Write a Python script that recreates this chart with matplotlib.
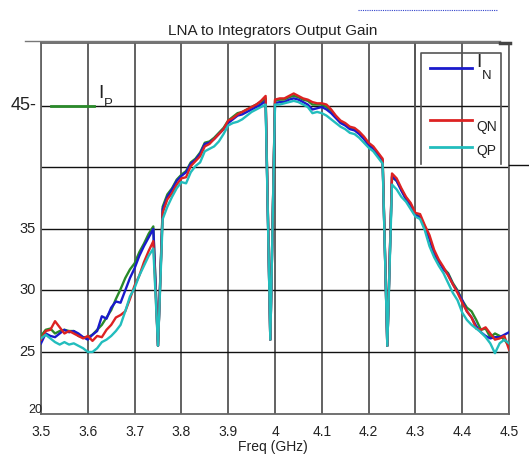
import numpy as np
import matplotlib
matplotlib.use("Agg")
import matplotlib.pyplot as plt
from matplotlib.lines import Line2D

plt.rcParams['font.family'] = ['Liberation Sans', 'DejaVu Sans']

freq = np.round(np.linspace(3.5, 4.5, 101), 2)

ip = [26.3, 26.8, 26.9, 26.5, 26.7, 26.8, 26.7, 26.7, 26.3, 26.2,
      26.2, 26.4, 26.8, 27.2, 27.8, 28.4, 29.3, 30.1, 31.0, 31.7,
      32.2, 33.1, 33.8, 34.6, 35.2, 25.5, 36.8, 37.8, 38.3, 39.0,
      39.4, 39.7, 40.4, 40.7, 41.2, 42.0, 42.1, 42.4, 42.8, 43.2,
      43.8, 44.1, 44.4, 44.5, 44.7, 44.9, 45.1, 45.3, 45.6, 26.0,
      45.4, 45.5, 45.5, 45.7, 45.8, 45.7, 45.5, 45.4, 45.1, 45.1,
      45.1, 44.9, 44.6, 44.1, 43.7, 43.5, 43.2, 43.1, 42.8, 42.4,
      41.9, 41.6, 41.1, 40.6, 25.5, 39.2, 38.9, 38.2, 37.5, 37.0,
      36.2, 36.0, 35.2, 34.3, 33.0, 32.3, 31.8, 31.4, 30.6, 30.0,
      29.2, 28.6, 28.3, 27.6, 26.8, 26.9, 26.2, 26.5, 26.3, 26.0,
      25.5]

i_n = [25.7, 26.5, 26.3, 26.2, 26.5, 26.8, 26.6, 26.7, 26.5, 26.2,
       26.0, 26.4, 26.7, 27.9, 27.7, 28.6, 29.1, 29.0, 30.0, 31.0,
       31.8, 32.8, 33.6, 34.3, 35.0, 25.5, 36.6, 37.6, 38.2, 38.9,
       39.3, 39.6, 40.3, 40.6, 41.1, 41.9, 42.0, 42.3, 42.7, 43.1,
       43.6, 43.9, 44.2, 44.3, 44.5, 44.7, 44.9, 45.1, 45.4, 26.0,
       45.2, 45.3, 45.3, 45.5, 45.6, 45.5, 45.3, 45.1, 44.7, 44.8,
       44.9, 44.7, 44.4, 44.0, 43.6, 43.4, 43.1, 43.0, 42.7, 42.3,
       41.8, 41.5, 41.0, 40.5, 25.5, 39.3, 38.9, 38.1, 37.4, 36.9,
       36.1, 35.9, 35.1, 34.2, 33.0, 32.4, 31.7, 31.3, 30.5, 29.9,
       29.2, 28.3, 27.8, 27.1, 26.6, 26.3, 26.1, 26.2, 26.2, 26.4,
       26.6]

qn = [26.0, 26.7, 26.8, 27.5, 27.0, 26.5, 26.7, 26.5, 26.3, 26.1,
      26.3, 25.9, 26.3, 26.2, 26.8, 27.2, 27.8, 28.0, 28.3, 29.3,
      30.4, 31.2, 32.3, 33.2, 34.0, 25.5, 36.3, 37.4, 37.9, 38.6,
      39.1, 39.2, 40.1, 40.5, 40.9, 41.7, 41.9, 42.3, 42.7, 43.1,
      43.8, 44.0, 44.3, 44.5, 44.7, 44.9, 45.1, 45.4, 45.8, 26.0,
      45.5, 45.6, 45.6, 45.8, 46.0, 45.8, 45.6, 45.5, 45.3, 45.2,
      45.2, 45.1, 44.7, 44.2, 43.8, 43.6, 43.3, 43.2, 42.9, 42.5,
      42.0, 41.7, 41.2, 40.7, 25.5, 39.5, 39.1, 38.3, 37.6, 37.1,
      36.3, 36.2, 35.3, 34.5, 33.3, 32.5, 31.9, 31.2, 30.5, 29.8,
      29.0, 28.3, 27.8, 26.9, 26.8, 27.0, 26.5, 26.0, 26.1, 26.3,
      25.2]

qp = [26.1, 26.4, 26.1, 25.8, 25.6, 25.8, 25.6, 25.7, 25.5, 25.3,
      25.0, 25.0, 25.3, 25.8, 26.0, 26.3, 26.7, 27.2, 28.3, 29.5,
      30.2, 31.2, 32.0, 32.8, 33.4, 25.5, 35.8, 36.8, 37.6, 38.3,
      38.8, 38.7, 39.6, 40.1, 40.4, 41.3, 41.5, 41.7, 42.1, 42.7,
      43.4, 43.6, 43.7, 43.9, 44.2, 44.5, 44.7, 44.9, 45.1, 26.0,
      45.1, 45.1, 45.2, 45.3, 45.4, 45.3, 45.1, 44.9, 44.4, 44.5,
      44.4, 44.2, 43.9, 43.6, 43.3, 43.1, 42.8, 42.7, 42.4, 42.0,
      41.6, 41.3, 40.8, 40.3, 25.5, 38.6, 38.2, 37.6, 37.2, 36.6,
      36.0, 35.8, 34.9, 33.6, 32.7, 32.0, 31.4, 30.6, 29.8, 29.2,
      28.2, 27.6, 27.2, 26.9, 26.6, 26.2, 25.7, 24.9, 25.7, 26.0,
      25.7]

x_ticks = [3.5, 3.6, 3.7, 3.8, 3.9, 4.0, 4.1, 4.2, 4.3, 4.4, 4.5]
x_ticklabels = ['3.5', '3.6', '3.7', '3.8', '3.9', '4', '4.1', '4.2', '4.3', '4.4', '4.5']
y_ticks = [20, 25, 30, 35, 45]
y_ticklabels = ['20', '25', '30', '35', '45']
title = 'LNA to Integrators Output Gain'
xlabel = 'Freq (GHz)'

W, H = 529, 458
fig = plt.figure(figsize=(W / 100, H / 100), dpi=100)
ax = fig.add_axes([41 / W, 1 - 413.5 / H, (509 - 41) / W, (413.5 - 43) / H])


def fx(px):
    return px / W


def fy(py):
    return 1 - py / H


# grid
for xv in x_ticks:
    ax.axvline(xv, color='#555555', lw=1.3, zorder=1)
for yv in [25, 30, 35, 40, 45]:
    ax.axhline(yv, color='#111111', lw=1.0, zorder=1)

ax.plot(freq, ip, color='#2a8a2a', lw=1.7, zorder=3)
ax.plot(freq, i_n, color='#1a1acc', lw=1.7, zorder=3)
ax.plot(freq, qn, color='#dd2222', lw=1.7, zorder=3)
ax.plot(freq, qp, color='#22bdbd', lw=1.7, zorder=4)

ax.set_xlim(3.5, 4.5)
ax.set_ylim(20, 50.1)
ax.set_xticks(x_ticks)
ax.set_xticklabels(x_ticklabels, fontsize=10, color='#222222')
ax.set_yticks([])
ax.tick_params(axis='x', length=0, pad=8)
for s in ax.spines.values():
    s.set_color('#666666')
    s.set_linewidth(1.3)

# y tick labels (irregular sizes as in reference)
for yv, lab in zip(y_ticks, y_ticklabels):
    if lab == '45':
        ax.text(-0.01, yv, lab + '-', transform=ax.get_yaxis_transform(), ha='right',
                va='center', fontsize=13, color='#222222')
    elif lab == '20':
        ax.text(-0.012, yv + 0.3, lab, transform=ax.get_yaxis_transform(), ha='center',
                va='center', fontsize=9, color='#222222')
    else:
        ax.text(-0.012, yv, lab, transform=ax.get_yaxis_transform(), ha='right',
                va='center', fontsize=10.5, color='#222222')

fig.text(fx(273), fy(31), title, ha='center', va='center', fontsize=11, color='#222222')
fig.text(fx(273), fy(447), xlabel, ha='center', va='center', fontsize=10, color='#222222')

# extended horizontal line at 40 to the right edge
fig.add_artist(Line2D([fx(509), fx(529)], [fy(165), fy(165)], color='#111111', lw=1.0))
# top double frame
fig.add_artist(Line2D([fx(25), fx(500)], [fy(41), fy(41)], color='#777777', lw=1.0))
fig.add_artist(Line2D([fx(500), fx(510)], [fy(43), fy(43)], color='#444444', lw=2.5))
# dotted artifact at top right
fig.add_artist(Line2D([fx(358), fx(498)], [fy(10), fy(10)], color='#3344cc', lw=0.8, ls=(0, (1, 1))))

# legend box
fig.add_artist(Line2D([fx(415), fx(415)], [fy(45), fy(164)], color='#555555', lw=1.2))
fig.add_artist(Line2D([fx(421), fx(421), fx(501), fx(501)], [fy(164), fy(53), fy(53), fy(164)],
                      color='#555555', lw=1.2))
fig.add_artist(Line2D([fx(430), fx(472)], [fy(68), fy(68)], color='#1a1acc', lw=2))
fig.text(fx(476), fy(63), 'I', fontsize=14, va='center', ha='left', color='#222222')
fig.text(fx(482), fy(76), 'N', fontsize=9.5, va='center', ha='left', color='#222222')
fig.add_artist(Line2D([fx(430), fx(472)], [fy(120), fy(120)], color='#dd2222', lw=2))
fig.text(fx(476), fy(127), 'QN', fontsize=10, va='center', ha='left', color='#222222')
fig.add_artist(Line2D([fx(430), fx(472)], [fy(147), fy(147)], color='#22bdbd', lw=2))
fig.text(fx(476), fy(151), 'QP', fontsize=10, va='center', ha='left', color='#222222')

# I_P label near 45
fig.add_artist(Line2D([fx(51), fx(94)], [fy(106), fy(106)], color='#2a8a2a', lw=2, zorder=5))
fig.text(fx(98), fy(94), 'I', fontsize=14, va='center', ha='left', color='#222222')
fig.text(fx(104), fy(104), 'P', fontsize=9.5, va='center', ha='left', color='#222222')

fig.savefig('out.png', dpi=100)
